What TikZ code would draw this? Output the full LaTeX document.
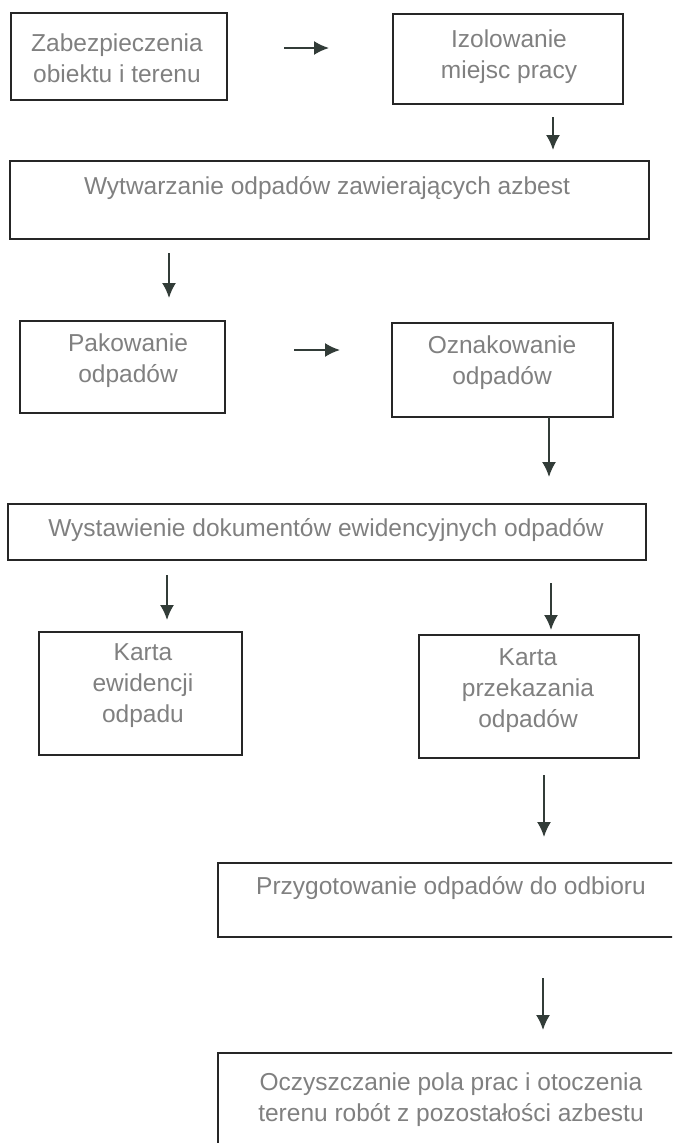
\documentclass[tikz,border=0pt]{standalone}
\usepackage{fontspec}
\setmainfont{Liberation Sans}
\usetikzlibrary{arrows.meta}
\definecolor{arrcol}{RGB}{50,60,56}
\begin{document}
\begin{tikzpicture}[x=1pt,y=-1pt,
  box/.style={draw=black!85, line width=1.7pt, rectangle, inner sep=0pt, outer sep=0pt},
  txt/.style={inner sep=0pt, align=center, text=black!50, font=\fontsize{24.5}{31}\selectfont},
  arr/.style={draw=arrcol, line width=1.8pt, -{Latex[length=15pt,width=14pt]}}]
\useasboundingbox (0,0) rectangle (672,1143);
\clip (0,0) rectangle (672,1143);
% boxes
\node[box, minimum width=216pt, minimum height=87pt] (b1) at (119,56.5) {};
\node[box, minimum width=230pt, minimum height=90pt] (b2) at (508,59) {};
\node[box, minimum width=639pt, minimum height=78pt] (b3) at (329.5,200) {};
\node[box, minimum width=205pt, minimum height=92pt] (b4) at (122.5,367) {};
\node[box, minimum width=221pt, minimum height=94pt] (b5) at (502.5,370) {};
\node[box, minimum width=638pt, minimum height=56pt] (b6) at (327,532) {};
\node[box, minimum width=203pt, minimum height=123pt] (b7) at (140.5,693.5) {};
\node[box, minimum width=220pt, minimum height=123pt] (b8) at (529,696.5) {};
\node[box, minimum width=468pt, minimum height=74pt] (b9) at (452,900) {};
\node[box, minimum width=468pt, minimum height=130pt] (b10) at (452,1118) {};
% texts
\node[txt] (t1) at (117,58) {Zabezpieczenia\\obiektu i terenu};
\node[txt] (t2) at (509,57) {Izolowanie\\miejsc pracy};
\node[txt] (t3) at (327,188) {Wytwarzanie odpadów zawierających azbest};
\node[txt] (t4) at (128,361) {Pakowanie\\odpadów};
\node[txt] (t5) at (502,363) {Oznakowanie\\odpadów};
\node[txt] (t6) at (326,530) {Wystawienie dokumentów ewidencyjnych odpadów};
\node[txt] (t7) at (143,686) {Karta\\ewidencji\\odpadu};
\node[txt] (t8) at (528,691) {Karta\\przekazania\\odpadów};
\node[txt] (t9) at (451,888) {Przygotowanie odpadów do odbioru};
\node[txt] (t10) at (451,1100) {Oczyszczanie pola prac i otoczenia\\terenu robót z pozostałości azbestu};
% arrow end points
\coordinate (a1s) at (284,48);  \coordinate (a1e) at (329,48);
\coordinate (a2s) at (553,117); \coordinate (a2e) at (553,150);
\coordinate (a3s) at (169,253); \coordinate (a3e) at (169,298);
\coordinate (a4s) at (294,350); \coordinate (a4e) at (340,350);
\coordinate (a5s) at (549,417); \coordinate (a5e) at (549,477);
\coordinate (a6s) at (167,575); \coordinate (a6e) at (167,620);
\coordinate (a7s) at (551,583); \coordinate (a7e) at (551,630);
\coordinate (a8s) at (544,775); \coordinate (a8e) at (544,837);
\coordinate (a9s) at (543,978); \coordinate (a9e) at (543,1030);
\draw[arr] (a1s) -- (a1e);
\draw[arr] (a2s) -- (a2e);
\draw[arr] (a3s) -- (a3e);
\draw[arr] (a4s) -- (a4e);
\draw[arr] (a5s) -- (a5e);
\draw[arr] (a6s) -- (a6e);
\draw[arr] (a7s) -- (a7e);
\draw[arr] (a8s) -- (a8e);
\draw[arr] (a9s) -- (a9e);
\end{tikzpicture}
\end{document}
